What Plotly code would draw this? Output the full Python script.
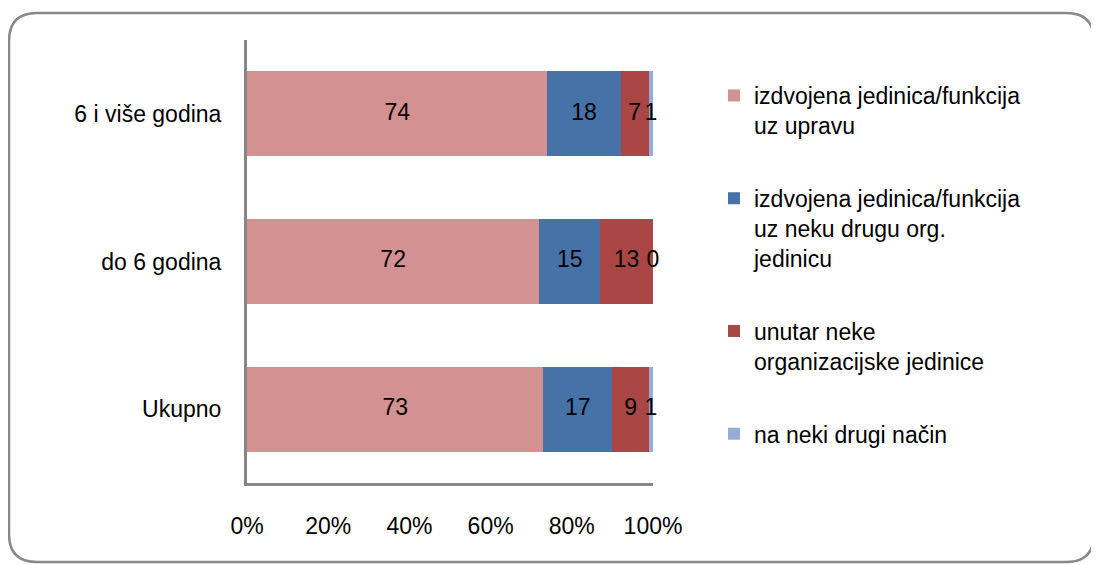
import numpy as np
import plotly.graph_objects as go

# categories from bottom to top, as plotly draws them
categories = ['Ukupno', 'do 6 godina', '6 i više godina']

series_names = [
    'izdvojena jedinica/funkcija<br>uz upravu',
    'izdvojena jedinica/funkcija<br>uz neku drugu org.<br>jedinicu',
    'unutar neke<br>organizacijske jedinice',
    'na neki drugi način',
]
uz_upravu = [73, 72, 74]
uz_drugu_org = [17, 15, 18]
unutar_jedinice = [9, 13, 7]
drugi_nacin = [1, 0, 1]

tick_values = [0, 20, 40, 60, 80, 100]

colors = ['#D39291', '#4672A8', '#AA4643', '#95ADD6']
font = 'Liberation Sans, Arial, sans-serif'

W, H = 1091, 557  # page has an 8px body margin

fig = go.Figure()

all_series = [uz_upravu, uz_drugu_org, unutar_jedinice, drugi_nacin]
left = np.zeros(len(categories))
label_x, label_y, label_text = [], [], []
for name, vals, color in zip(series_names, all_series, colors):
    vals = np.array(vals, dtype=float)
    fig.add_trace(go.Bar(
        y=categories, x=vals, orientation='h', name=name,
        marker=dict(color=color, line=dict(width=0)),
        legendgroup=name,
    ))
    # data labels sit in the middle of each segment
    label_x += list(left + vals / 2)
    label_y += categories
    label_text += [str(int(v)) for v in vals]
    left = left + vals

fig.add_trace(go.Scatter(
    x=label_x, y=label_y, text=label_text, mode='text',
    textfont=dict(family=font, size=23, color='black'),
    showlegend=False, hoverinfo='skip', cliponaxis=False,
))

# rounded frame round the whole chart (paper coords of the plot area)
def px_x(p):
    return (p - 239) / 406

def px_y(p):
    return (475 - p) / 443

x0, x1, y0, y1 = px_x(1), px_x(1086), px_y(5), px_y(554)
rx, ry = px_x(239 + 28), px_y(475 - 28)
frame = (f'M {x0 + rx},{y0} L {x1 - rx},{y0} Q {x1},{y0} {x1},{y0 - ry} '
         f'L {x1},{y1 + ry} Q {x1},{y1} {x1 - rx},{y1} '
         f'L {x0 + rx},{y1} Q {x0},{y1} {x0},{y1 + ry} '
         f'L {x0},{y0 - ry} Q {x0},{y0} {x0 + rx},{y0} Z')
fig.add_shape(type='path', path=frame, xref='paper', yref='paper',
              line=dict(color='#888888', width=2.5), layer='below')

fig.update_layout(
    barmode='stack',
    bargap=0.425,
    width=W, height=H,
    margin=dict(l=239, r=446, t=32, b=82),
    paper_bgcolor='white', plot_bgcolor='white',
    font=dict(family=font, size=23, color='black'),
    legend=dict(
        xref='container', yref='container',
        x=706 / W, y=1 - 66 / H, xanchor='left', yanchor='top',
        traceorder='grouped', tracegroupgap=40, valign='top',
        maxheight=520,
        font=dict(family=font, size=23, color='black'),
    ),
    showlegend=True,
)
fig.update_xaxes(
    range=[0, 100], tickvals=tick_values,
    ticktext=[f'{v}%' for v in tick_values],
    showgrid=False, zeroline=False,
    showline=True, linecolor='#868686', linewidth=3,
    ticks='', ticklabelstandoff=20,
    tickfont=dict(size=23),
)
fig.update_yaxes(
    range=[-0.5, 2.5],
    showgrid=False, zeroline=False,
    showline=True, linecolor='#868686', linewidth=3,
    ticks='', ticklabelstandoff=18,
    tickfont=dict(size=23),
)

fig.write_html('out.html')
